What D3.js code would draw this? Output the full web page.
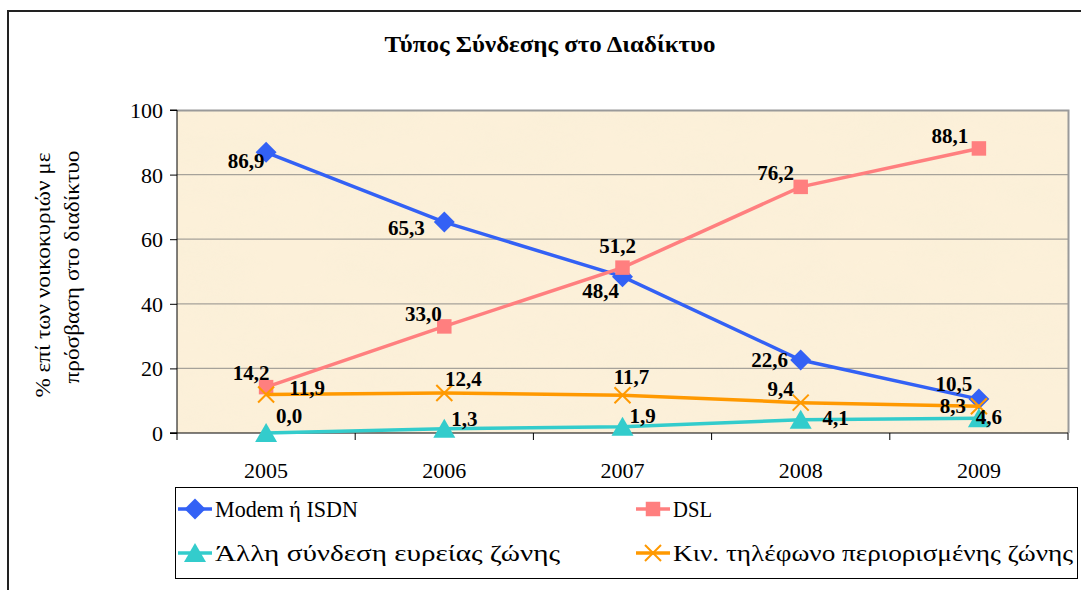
<!DOCTYPE html>
<html>
<head>
<meta charset="utf-8">
<script src="https://cdn.jsdelivr.net/npm/d3@7"></script>
<style>
  body { margin: 0; background: #fff; }
  svg text { font-family: "Liberation Serif", "Times New Roman", "DejaVu Serif", serif; }
</style>
</head>
<body>
<script>
// chart data
var years = ['2005', '2006', '2007', '2008', '2009'];
var modem = [86.9, 65.3, 48.4, 22.6, 10.5];
var dsl = [14.2, 33.0, 51.2, 76.2, 88.1];
var otherBroadband = [0.0, 1.3, 1.9, 4.1, 4.6];
var mobile = [11.9, 12.4, 11.7, 9.4, 8.3];
var seriesNames = ['Modem ή ISDN', 'DSL', 'Άλλη σύνδεση ευρείας ζώνης', 'Κιν. τηλέφωνο περιορισμένης ζώνης'];
var yTicks = [0, 20, 40, 60, 80, 100];

// where each value label sits relative to its point [dx, dy]
var labelOffsets = [
  [[-20, 16], [-38, 13], [-22, 21], [-31, 7], [-25, -8]],
  [[-15, -7], [-21, -5], [-5, -15], [-25, -7], [-29, -5]],
  [[23, -10], [20, -3], [20, -4], [35, 5], [10, 6]],
  [[41, 0], [19, -7], [9, -11], [-20, -7], [-26, 7]]
];

var W = 1081, H = 590;
var m = { left: 177, right: 1068, top: 110, bottom: 433 };

var svg = d3.select('body')
            .append('svg')
            .attr('width', W)
            .attr('height', H);

var defs = svg.append('defs');
var f = defs.append('filter').attr('id', 'paper')
            .attr('x', 0).attr('y', 0).attr('width', 1).attr('height', 1);
f.append('feTurbulence').attr('type', 'fractalNoise')
 .attr('baseFrequency', '0.012 0.03').attr('numOctaves', 3).attr('seed', 4);
f.append('feColorMatrix').attr('type', 'matrix')
 .attr('values', '0 0 0 0 0.93  0 0 0 0 0.86  0 0 0 0 0.68  0.9 0 0 0 -0.3');
f.append('feComposite').attr('in2', 'SourceGraphic').attr('operator', 'in');

// outer frame
svg.append('path')
   .attr('d', 'M8,' + H + 'V11H' + W)
   .attr('fill', 'none')
   .attr('stroke', '#222')
   .attr('stroke-width', 2);

// title
svg.append('text')
   .attr('x', 550).attr('y', 52)
   .attr('text-anchor', 'middle')
   .attr('font-size', 23).attr('font-weight', 'bold')
   .attr('textLength', 331).attr('lengthAdjust', 'spacingAndGlyphs')
   .text('Τύπος Σύνδεσης στο Διαδίκτυο');

var x = d3.scaleBand().domain(years).range([m.left, m.right]);
var y = d3.scaleLinear().domain([0, 100]).range([m.bottom, m.top]);
var cx = function(i) { return x(years[i]) + x.bandwidth() / 2; };

// plot area
svg.append('rect')
   .attr('x', m.left).attr('y', m.top)
   .attr('width', m.right - m.left).attr('height', m.bottom - m.top)
   .attr('fill', '#FCF0D9');
svg.append('rect')
   .attr('x', m.left).attr('y', m.top)
   .attr('width', m.right - m.left).attr('height', m.bottom - m.top)
   .attr('fill', '#fff')
   .attr('filter', 'url(#paper)')
   .attr('opacity', 0.55);

// gridlines
svg.append('g')
   .selectAll('line')
   .data(yTicks.slice(1, 5))
   .enter()
   .append('line')
   .attr('x1', m.left).attr('x2', m.right)
   .attr('y1', function(d) { return y(d); })
   .attr('y2', function(d) { return y(d); })
   .attr('stroke', '#a6a29a').attr('stroke-width', 1.2);

// plot border top/right
svg.append('path')
   .attr('d', 'M' + m.left + ',' + (m.top + 0.5) + 'H' + (m.right + 0.5) + 'V' + m.bottom)
   .attr('fill', 'none')
   .attr('stroke', '#9a9a9a').attr('stroke-width', 2);

// y axis
var yAxis = svg.append('g')
   .attr('transform', 'translate(' + m.left + ',0)')
   .call(d3.axisLeft(y).tickValues(yTicks).tickSize(7).tickPadding(7));
yAxis.attr('font-family', null);
yAxis.selectAll('text').attr('font-size', 22).attr('fill', '#000')
     .attr('dy', '0.34em');
yAxis.selectAll('line, path').attr('stroke', '#000');
yAxis.select('.domain').attr('d', 'M-7,' + m.bottom + 'H0V' + m.top + 'H-7');

// x axis: ticks at band edges
var xAxis = svg.append('g')
   .attr('transform', 'translate(0,' + m.bottom + ')');
xAxis.append('line')
     .attr('x1', m.left - 7).attr('x2', m.right)
     .attr('stroke', '#000');
xAxis.selectAll('line.tk')
     .data(years.concat(['end']))
     .enter()
     .append('line')
     .attr('class', 'tk')
     .attr('x1', function(d, i) { return m.left + i * x.bandwidth(); })
     .attr('x2', function(d, i) { return m.left + i * x.bandwidth(); })
     .attr('y1', 0).attr('y2', 7)
     .attr('stroke', '#000');
xAxis.selectAll('text')
     .data(years)
     .enter()
     .append('text')
     .attr('x', function(d) { return x(d) + x.bandwidth() / 2; })
     .attr('y', 45)
     .attr('text-anchor', 'middle')
     .attr('font-size', 22)
     .text(function(d) { return d; });

// y title
svg.append('text')
   .attr('transform', 'translate(50,275) rotate(-90)')
   .attr('text-anchor', 'middle')
   .attr('font-size', 20)
   .attr('textLength', 245).attr('lengthAdjust', 'spacingAndGlyphs')
   .text('% επί των νοικοκυριών με');
svg.append('text')
   .attr('transform', 'translate(79,267) rotate(-90)')
   .attr('text-anchor', 'middle')
   .attr('font-size', 20)
   .attr('textLength', 233).attr('lengthAdjust', 'spacingAndGlyphs')
   .text('πρόσβαση στο διαδίκτυο');

var colors = ['#3361F5', '#FF7F7F', '#33CCCC', '#FF9900'];
var allSeries = [modem, dsl, otherBroadband, mobile];

function drawMarker(g, k, color) {
  if (k === 0) {
    g.append('path').attr('d', d3.symbol().type(d3.symbolDiamond2).size(280)())
     .attr('fill', color);
  } else if (k === 1) {
    g.append('path').attr('d', d3.symbol().type(d3.symbolSquare).size(210)())
     .attr('fill', color);
  } else if (k === 2) {
    g.append('path').attr('d', 'M0,-10L11,9H-11Z').attr('fill', color);
  } else {
    g.append('path').attr('d', 'M-8,-8L8,8M-8,8L8,-8')
     .attr('stroke', color).attr('stroke-width', 2).attr('fill', 'none');
  }
}

var line = d3.line()
             .x(function(d, i) { return cx(i); })
             .y(function(d) { return y(d); });

allSeries.forEach(function(s, k) {
  svg.append('path')
     .datum(s)
     .attr('d', line)
     .attr('fill', 'none')
     .attr('stroke', colors[k])
     .attr('stroke-width', 3.5);
  s.forEach(function(v, i) {
    var g = svg.append('g').attr('transform', 'translate(' + cx(i) + ',' + y(v) + ')');
    drawMarker(g, k, colors[k]);
  });
});

// value labels
allSeries.forEach(function(s, k) {
  svg.append('g')
     .selectAll('text')
     .data(s)
     .enter()
     .append('text')
     .attr('x', function(d, i) { return cx(i) + labelOffsets[k][i][0]; })
     .attr('y', function(d, i) { return y(d) + labelOffsets[k][i][1]; })
     .attr('text-anchor', 'middle')
     .attr('font-size', 21).attr('font-weight', 'bold')
     .text(function(d) { return d.toFixed(1).replace('.', ','); });
});

// legend
var lg = svg.append('g');
lg.append('rect')
  .attr('x', 175.5).attr('y', 487.5)
  .attr('width', 902).attr('height', 91)
  .attr('fill', '#fff').attr('stroke', '#000');
var legPos = [[178, 509], [636, 509], [178, 553], [636, 553]];
var legLen = [143, 39, 345, 400];
seriesNames.forEach(function(name, k) {
  var p = legPos[k];
  var g = lg.append('g').attr('transform', 'translate(' + p[0] + ',' + p[1] + ')');
  g.append('line').attr('x1', 0).attr('x2', 34)
   .attr('stroke', colors[k]).attr('stroke-width', 3.5);
  var mk = g.append('g').attr('transform', 'translate(17,0)');
  drawMarker(mk, k, colors[k]);
  g.append('text')
   .attr('x', 37).attr('y', 8)
   .attr('font-size', 23)
   .attr('textLength', legLen[k]).attr('lengthAdjust', 'spacingAndGlyphs')
   .text(name);
});
</script>
</body>
</html>
